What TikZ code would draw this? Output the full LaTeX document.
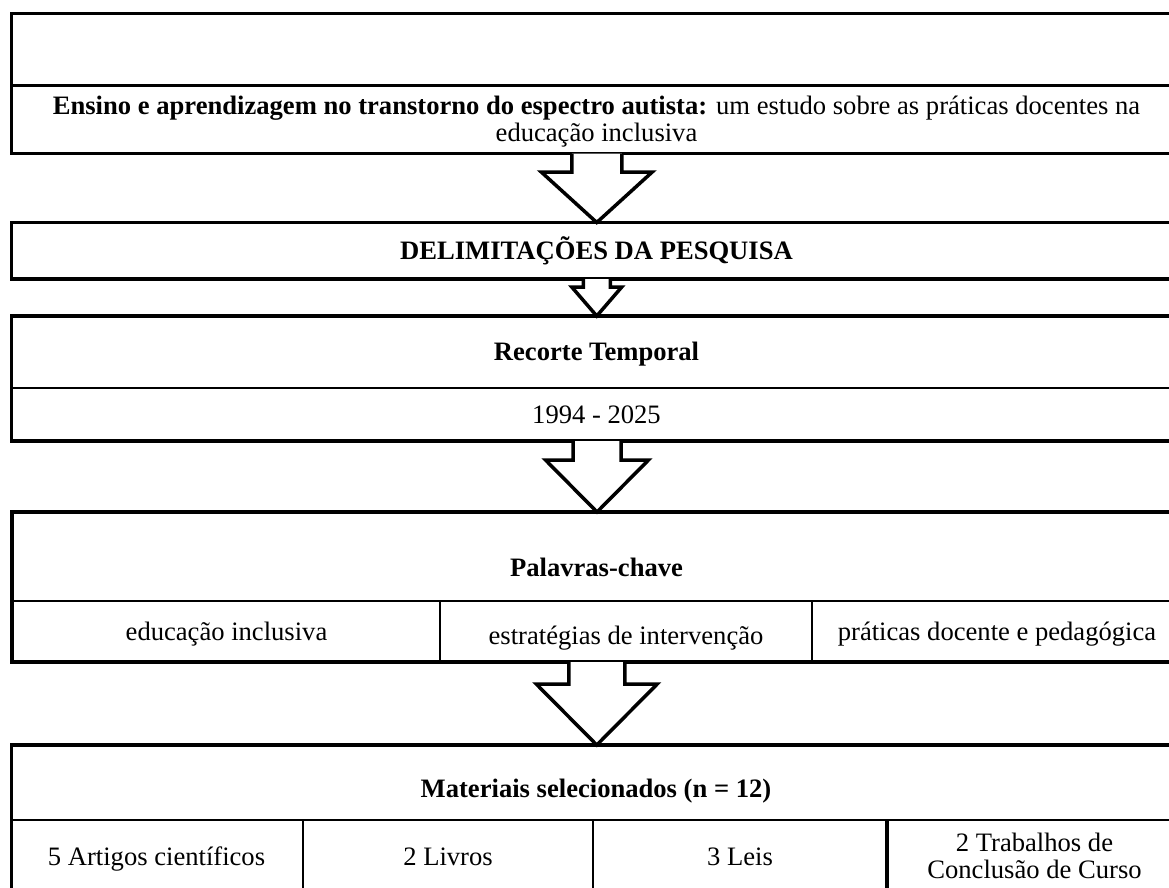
\documentclass[tikz,border=0pt]{standalone}
\usepackage{fontspec}
\setmainfont{Liberation Serif}
\usetikzlibrary{calc}
\newcommand\blockarr[5]{%
  \draw[arr] let \p1=(#1.south), \p2=(#2.north) in
    (\x2-#3,\y1) -- (\x2-#3,\y2+#5) -- (\x2-#4,\y2+#5) -- (\x2,\y2)
    -- (\x2+#4,\y2+#5) -- (\x2+#3,\y2+#5) -- (\x2+#3,\y1);}
\begin{document}
\begin{tikzpicture}[x=1pt,y=-1pt,
  outer/.style={draw=black, line width=3.5pt, rectangle, inner sep=0pt, outer sep=0pt, anchor=north west},
  divider/.style={draw=black, line width=2.2pt},
  thickdiv/.style={draw=black, line width=4pt},
  txt/.style={inner sep=0pt, anchor=base, align=center, font=\fontsize{26.6}{26.6}\selectfont},
  btxt/.style={txt, font=\fontsize{26.6}{26.6}\selectfont\bfseries},
  arr/.style={draw=black, fill=white, line width=3.5pt, line join=miter}
]
\useasboundingbox (0,0) rectangle (1169,888);
\fill[white] (0,0) rectangle (1169,888);
\clip (0,0) rectangle (1169,888);

% Box 1: title
\node[outer, minimum width=1170.5pt, minimum height=140pt] (b1) at (11.5,13.5) {};
\draw[divider] (11.5,85.5) -- (1182,85.5);
\node[txt] (t1a) at (596.5,115) {\textbf{Ensino e aprendizagem no transtorno do espectro autista:} um estudo sobre as práticas docentes na};
\node[txt] (t1b) at (596.5,141.7) {educação inclusiva};

% Box 2: delimitacoes
\node[outer, minimum width=1170.5pt, minimum height=56.5pt] (b2) at (11.5,222.5) {};
\node[btxt] (t2) at (596.5,259) {DELIMITAÇÕES DA PESQUISA};

% Box 3: recorte temporal
\node[outer, minimum width=1170.5pt, minimum height=125pt] (b3) at (11.5,316) {};
\draw[divider] (11.5,388) -- (1182,388);
\node[btxt] (t3a) at (596.5,360.8) {Recorte Temporal};
\node[txt] (t3b) at (596.5,423.3) {1994 - 2025};

% Box 4: palavras-chave
\node[outer, minimum width=1170pt, minimum height=150pt] (b4) at (12,512) {};
\draw[divider] (12,601) -- (1182,601);
\draw[divider] (440,601) -- (440,662);
\draw[divider] (812,601) -- (812,662);
\node[btxt] (t4) at (596.5,576.7) {Palavras-chave};
\node[txt] (k1) at (226.5,640) {educação inclusiva};
\node[txt] (k2) at (626,644) {estratégias de intervenção};
\node[txt] (k3) at (997,640.5) {práticas docente e pedagógica};

% Box 5: materiais
\node[outer, minimum width=1170.5pt, minimum height=150pt] (b5) at (11.5,745) {};
\draw[divider] (11.5,820) -- (1182,820);
\draw[divider] (303,820) -- (303,900);
\draw[divider] (593,820) -- (593,900);
\draw[thickdiv] (887,820) -- (887,900);
\node[btxt] (t5) at (596,797) {Materiais selecionados (n = 12)};
\node[txt] (m1) at (156.5,865) {5 Artigos científicos};
\node[txt] (m2) at (448,865) {2 Livros};
\node[txt] (m3) at (740,865) {3 Leis};
\node[txt] (m4) at (1034.5,878.3) {2 Trabalhos de\\Conclusão de Curso};

% Block arrows
\blockarr{b1}{b2}{25}{55.5}{50.5}
\blockarr{b2}{b3}{13.5}{25}{29}
\blockarr{b3}{b4}{24}{51.5}{52}
\blockarr{b4}{b5}{28}{60.5}{61}
\end{tikzpicture}
\end{document}
